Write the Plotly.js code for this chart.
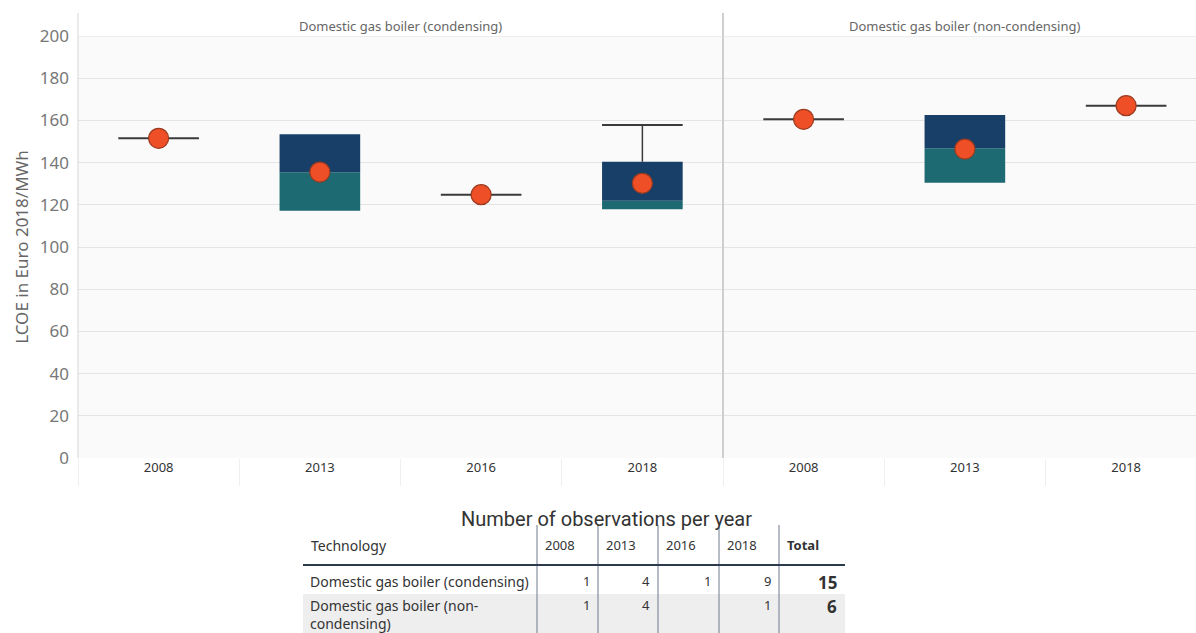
<!DOCTYPE html>
<html><head><meta charset="utf-8">
<script src="https://cdn.plot.ly/plotly-3.0.1.min.js"></script>
<style>html,body{margin:0;padding:0;background:#fff}#chart{width:1196px;height:633px}</style>
</head><body><div id="chart"></div>
<script>
// ---- data ----
const condYears = ['2008', '2013', '2016', '2018'];
const condMin = [151.5, 117.2, 124.8, 117.9];
const condQ1 = [151.5, 117.2, 124.8, 117.9];
const condMedian = [151.5, 135.4, 124.8, 121.9];
const condQ3 = [151.5, 153.4, 124.8, 140.4];
const condMax = [151.5, 153.4, 124.8, 157.8];
const condMean = [151.5, 135.5, 124.8, 130.2];

const nonYears = ['2008', '2013', '2018'];
const nonMin = [160.5, 130.5, 167.0];
const nonQ1 = [160.5, 130.5, 167.0];
const nonMedian = [160.5, 146.8, 167.0];
const nonQ3 = [160.5, 162.6, 167.0];
const nonMax = [160.5, 162.6, 167.0];
const nonMean = [160.5, 146.4, 167.0];

const panelTitles = ['Domestic gas boiler (condensing)', 'Domestic gas boiler (non-condensing)'];
const yTicks = [0, 20, 40, 60, 80, 100, 120, 140, 160, 180, 200];
const yTitle = 'LCOE in Euro 2018/MWh';

const tableTitle = 'Number of observations per year';
const tableHeader = ['Technology', '2008', '2013', '2016', '2018', 'Total'];
const tableTech = ['Domestic gas boiler (condensing)', 'Domestic gas boiler (non-<br>condensing)'];
const obs2008 = [1, 1];
const obs2013 = [4, 4];
const obs2016 = [1, null];
const obs2018 = [9, 1];

// ---- layout constants (pixels) ----
const W = 1196, H = 633;
const plotLeft = 78, sepX = 723, plotTop = 36, plotBottom = 458, axisTop = 13;
const unitPx = (sepX - plotLeft) / condYears.length;
const px = v => v / W, py = v => (H - v) / H;

const TEAL = '#1d6a72', NAVY = '#173f68', DARK = '#3a3a3a';
const FONT = 'Noto Sans, Open Sans, sans-serif';

function panel(xa, ya, years, mins, q1, med, q3, maxs, mean) {
  const idx = years.map((_, i) => i);
  const half = 0.25;
  const traces = [];
  traces.push({type: 'bar', x: idx, base: q1, y: idx.map(i => med[i] - q1[i]), width: 0.5,
    marker: {color: TEAL, line: {width: 0}}, xaxis: xa, yaxis: ya, hoverinfo: 'skip'});
  traces.push({type: 'bar', x: idx, base: med, y: idx.map(i => q3[i] - med[i]), width: 0.5,
    marker: {color: NAVY, line: {width: 0}}, xaxis: xa, yaxis: ya, hoverinfo: 'skip'});
  const wx = [], wy = [], cx = [], cy = [];
  idx.forEach(i => {
    const cap = v => { cx.push(i - half, i + half, null); cy.push(v, v, null); };
    if (q1[i] === q3[i]) { cap(q1[i]); }
    if (maxs[i] > q3[i]) { wx.push(i, i, null); wy.push(q3[i], maxs[i], null); cap(maxs[i]); }
    if (mins[i] < q1[i]) { wx.push(i, i, null); wy.push(mins[i], q1[i], null); cap(mins[i]); }
  });
  traces.push({type: 'scatter', mode: 'lines', x: wx, y: wy, line: {color: DARK, width: 1.5},
    xaxis: xa, yaxis: ya, hoverinfo: 'skip'});
  traces.push({type: 'scatter', mode: 'lines', x: cx, y: cy, line: {color: DARK, width: 2},
    xaxis: xa, yaxis: ya, hoverinfo: 'skip'});
  traces.push({type: 'scatter', mode: 'markers', x: idx, y: mean,
    marker: {size: 20, color: '#ef4f27', line: {color: '#9b3b1f', width: 1.2}},
    xaxis: xa, yaxis: ya});
  return traces;
}

const data = [].concat(
  panel('x', 'y', condYears, condMin, condQ1, condMedian, condQ3, condMax, condMean),
  panel('x2', 'y2', nonYears, nonMin, nonQ1, nonMedian, nonQ3, nonMax, nonMean)
);

// ---- table (drawn with shapes + annotations) ----
const totals = obs2008.map((_, r) => [obs2008, obs2013, obs2016, obs2018].reduce((s, a) => s + (a[r] || 0), 0));
const colW = [234, 61, 60, 61, 60, 66];
const tableLeft = 303, tableTop = 525, headerY = 545, headerLine = 565;
const rowTop = [565, 594], rowTextY = [581, 605], lineGap = 18;
const edges = [tableLeft];
colW.forEach(w => edges.push(edges[edges.length - 1] + w));
const tableRight = edges[edges.length - 1];

const shapes = [];
const annotations = [];

// row backgrounds
const rowFill = ['#ffffff', '#eeeeee'];
rowTop.forEach((t, r) => {
  const b = r + 1 < rowTop.length ? rowTop[r + 1] : H;
  shapes.push({type: 'rect', xref: 'paper', yref: 'paper', x0: px(tableLeft), x1: px(tableRight),
    y0: py(b), y1: py(t), fillcolor: rowFill[r], line: {width: 0}, layer: 'below'});
});
// dividers
edges.slice(1, -1).forEach(e => {
  shapes.push({type: 'line', xref: 'paper', yref: 'paper', x0: px(e), x1: px(e),
    y0: 0, y1: py(tableTop), line: {color: '#6c7a8c', width: 1}});
});
shapes.push({type: 'line', xref: 'paper', yref: 'paper', x0: px(tableLeft), x1: px(tableRight),
  y0: py(headerLine), y1: py(headerLine), line: {color: '#2c3a4e', width: 2}});

const TF = {family: FONT, size: 13, color: '#333'};
tableHeader.forEach((h, c) => {
  const last = c === tableHeader.length - 1;
  annotations.push({text: last ? '<b>' + h + '</b>' : h, xref: 'paper', yref: 'paper',
    x: px(edges[c] + 6), y: py(headerY), xanchor: 'left', yanchor: 'middle', showarrow: false,
    font: Object.assign({}, TF, {size: c === 0 ? 14 : 13})});
});
const cols = [obs2008, obs2013, obs2016, obs2018, totals];
tableTech.forEach((t, r) => {
  t.split('<br>').forEach((line, k) => {
    annotations.push({text: line, xref: 'paper', yref: 'paper', x: px(edges[0] + 5),
      y: py(rowTextY[r] + k * lineGap), xanchor: 'left', yanchor: 'middle', showarrow: false,
      font: Object.assign({}, TF, {size: 14})});
  });
  cols.forEach((col, c) => {
    const v = col[r];
    if (v === null || v === undefined) return;
    const isTotal = c === cols.length - 1;
    annotations.push({text: isTotal ? '<b>' + v + '</b>' : String(v), xref: 'paper', yref: 'paper',
      x: px(edges[c + 2] - 6), y: py(rowTextY[r] + (isTotal ? 1 : 0)), xanchor: 'right', yanchor: 'middle',
      showarrow: false, font: Object.assign({}, TF, {size: isTotal ? 17 : 13})});
  });
});
annotations.push({text: tableTitle, xref: 'paper', yref: 'paper', x: px(606), y: py(519),
  xanchor: 'center', yanchor: 'middle', showarrow: false,
  font: {family: 'Roboto, sans-serif', size: 20, color: '#333'}});

// ---- chart frame ----
shapes.push({type: 'line', xref: 'paper', yref: 'paper', x0: px(plotLeft), x1: px(plotLeft),
  y0: py(plotBottom), y1: py(axisTop), line: {color: '#d6d6d6', width: 1}});
shapes.push({type: 'line', xref: 'paper', yref: 'paper', x0: px(sepX), x1: px(sepX),
  y0: py(plotBottom), y1: py(axisTop), line: {color: '#cfcfcf', width: 2}});
shapes.push({type: 'line', xref: 'paper', yref: 'y', x0: px(plotLeft), x1: 1,
  y0: yTicks[yTicks.length - 1], y1: yTicks[yTicks.length - 1], line: {color: '#e0e0e0', width: 1}});

annotations.push(
  {text: panelTitles[0], xref: 'x', yref: 'paper', x: (condYears.length - 1) / 2, y: py(26),
    yanchor: 'middle', showarrow: false, font: {family: FONT, size: 13, color: '#666'}},
  {text: panelTitles[1], xref: 'x2', yref: 'paper', x: (nonYears.length - 1) / 2, y: py(26),
    yanchor: 'middle', showarrow: false, font: {family: FONT, size: 13, color: '#666'}}
);

function xAxis(domainPx, years, rangeEnd) {
  return {
    domain: [px(domainPx[0]), px(domainPx[1])],
    range: [-0.5, rangeEnd],
    tickvals: years.map((_, i) => i), ticktext: years,
    tickfont: {family: FONT, size: 13, color: '#333'},
    showgrid: false, zeroline: false, showline: false, ticks: '',
    minor: {tickvals: years.map((_, i) => i - 0.5), ticks: 'outside', ticklen: 27, tickcolor: '#efefef', tickwidth: 1, showgrid: false},
    fixedrange: true
  };
}

const layout = {
  width: W, height: H,
  margin: {l: 0, r: 0, t: 0, b: 0},
  paper_bgcolor: '#ffffff', plot_bgcolor: '#fafafa',
  showlegend: false, barmode: 'overlay',
  font: {family: FONT},
  xaxis: xAxis([plotLeft, sepX], condYears, condYears.length - 0.5),
  xaxis2: Object.assign(xAxis([sepX, W], nonYears, -0.5 + (W - sepX) / unitPx), {anchor: 'y2'}),
  yaxis: {
    domain: [py(plotBottom), py(plotTop)], range: [0, 200],
    tickvals: yTicks, tickfont: {family: FONT, size: 17, color: '#777'},
    gridcolor: '#e4e4e4', zeroline: false, showline: false, ticks: '', ticklabelstandoff: 8,
    title: {text: yTitle, font: {family: FONT, size: 17, color: '#666'}, standoff: 6},
    fixedrange: true
  },
  yaxis2: {
    domain: [py(plotBottom), py(plotTop)], range: [0, 200], anchor: 'x2', matches: 'y',
    tickvals: yTicks, showticklabels: false, gridcolor: '#e4e4e4', zeroline: false, showline: false,
    fixedrange: true
  },
  shapes: shapes,
  annotations: annotations
};

Plotly.newPlot('chart', data, layout, {displayModeBar: false, staticPlot: true});
</script>
</body></html>
